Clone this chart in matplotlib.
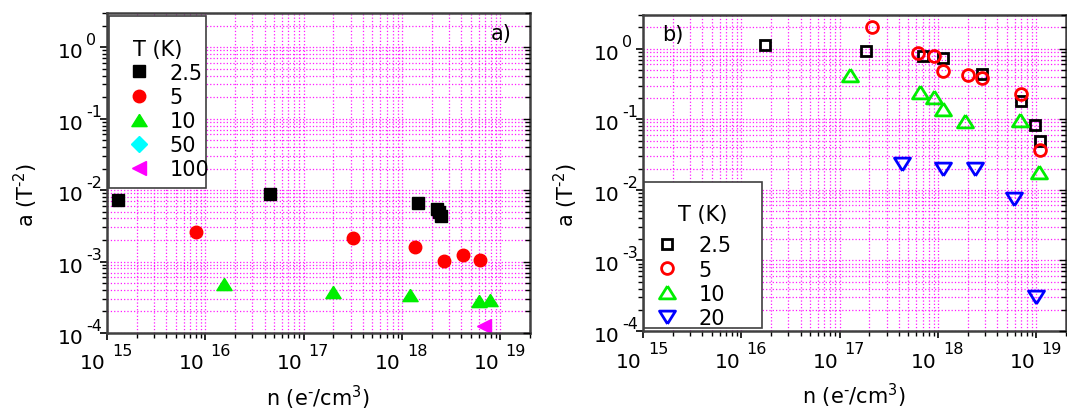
import matplotlib
matplotlib.use('Agg')
import matplotlib.pyplot as plt
from matplotlib.ticker import LogLocator, NullFormatter

plt.rcParams['font.family'] = 'DejaVu Sans'
plt.rcParams['font.size'] = 14

# panel a) - filled markers
a_n_25 = [1.28e15, 4.5e16, 1.44e18, 2.26e18, 2.4e18, 2.5e18]
a_a_25 = [7.2e-3, 8.8e-3, 6.5e-3, 5.5e-3, 5.0e-3, 4.3e-3]
a_n_5 = [8.0e15, 3.2e17, 1.34e18, 2.7e18, 4.2e18, 6.2e18]
a_a_5 = [2.6e-3, 2.1e-3, 1.6e-3, 1.02e-3, 1.25e-3, 1.05e-3]
a_n_10 = [1.55e16, 2.0e17, 1.2e18, 6.0e18, 7.9e18]
a_a_10 = [4.8e-4, 3.7e-4, 3.4e-4, 2.8e-4, 2.9e-4]
a_n_50 = []
a_a_50 = []
a_n_100 = [6.8e18]
a_a_100 = [1.27e-4]

# panel b) - open markers
b_n_25 = [1.76e16, 1.85e17, 7.0e17, 1.13e18, 2.8e18, 6.9e18, 9.6e18, 1.1e19]
b_a_25 = [1.11, 0.92, 0.80, 0.74, 0.44, 0.18, 0.082, 0.049]
b_n_5 = [2.15e17, 6.3e17, 9.1e17, 1.12e18, 2.0e18, 2.8e18, 6.9e18, 1.1e19]
b_a_5 = [2.0, 0.87, 0.78, 0.49, 0.43, 0.38, 0.23, 0.037]
b_n_10 = [1.26e17, 6.6e17, 9.1e17, 1.12e18, 1.9e18, 6.8e18, 1.07e19]
b_a_10 = [0.43, 0.24, 0.21, 0.14, 0.094, 0.099, 0.018]
b_n_20 = [4.3e17, 1.12e18, 2.4e18, 5.9e18, 1.0e19]
b_a_20 = [0.023, 0.0195, 0.0195, 0.0074, 3.0e-4]

x_exps = [15, 16, 17, 18, 19]
y_exps = [-4, -3, -2, -1, 0]

# wide triangles
tri_up = [(0, 0.8), (-1, -0.8), (1, -0.8), (0, 0.8)]
tri_dn = [(0, -0.8), (-1, 0.8), (1, 0.8), (0, -0.8)]

W, H = 1067, 410
fig = plt.figure(figsize=(W / 100, H / 100), dpi=100)
ax1 = fig.add_axes([107 / W, 1 - 334 / H, 423 / W, 320 / H])
ax2 = fig.add_axes([643 / W, 1 - 332 / H, 423 / W, 316 / H])


def decade_labels(ax):
    # "10" plus a raised exponent, drawn as two pieces of text
    for e in x_exps:
        ax.annotate('10', xy=(10.0 ** e, 0), xycoords=('data', 'axes fraction'),
                    xytext=(-1, -35.5), textcoords='offset pixels',
                    ha='right', va='baseline', fontsize=14.5, annotation_clip=False)
        ax.annotate('%d' % e, xy=(10.0 ** e, 0), xycoords=('data', 'axes fraction'),
                    xytext=(5, -22), textcoords='offset pixels',
                    ha='left', va='baseline', fontsize=11.5, annotation_clip=False)
    for e in y_exps:
        ax.annotate('10', xy=(0, 10.0 ** e), xycoords=('axes fraction', 'data'),
                    xytext=(-23, -10), textcoords='offset pixels',
                    ha='right', va='baseline', fontsize=14.5, annotation_clip=False)
        ax.annotate('%d' % e, xy=(0, 10.0 ** e), xycoords=('axes fraction', 'data'),
                    xytext=(-21, 3), textcoords='offset pixels',
                    ha='left', va='baseline', fontsize=11.5, annotation_clip=False)


def log_locators(ax):
    for axis in (ax.xaxis, ax.yaxis):
        axis.set_major_locator(LogLocator(base=10, numticks=10))
        axis.set_minor_locator(LogLocator(base=10, subs=range(2, 10), numticks=20))
        axis.set_minor_formatter(NullFormatter())


def style(ax):
    ax.set_xscale('log')
    ax.set_yscale('log')
    ax.set_xlim(1e15, 2e19)
    ax.set_ylim(1e-4, 3)
    log_locators(ax)
    ax.grid(True, which='both', color='#ff1aff', linestyle=':', linewidth=0.9)
    ax.set_axisbelow(True)
    for s in ax.spines.values():
        s.set_color('#404040')
        s.set_linewidth(1.8)
    ax.tick_params(which='major', direction='out', length=5, width=1.2,
                   right=False, top=False, labelbottom=False, labelleft=False)
    ax.tick_params(which='minor', direction='out', length=3.5, width=1,
                   right=False, top=False)
    ax.set_xlabel('n (e$^{\\mathregular{\u2010}}$/cm$^{\\mathregular{3}}$)', fontsize=15)
    ax.set_ylabel('a (T$^{\\mathregular{\u20102}}$)', fontsize=15)
    decade_labels(ax)

    # ticks on the right side point inwards
    rt = ax.twinx()
    rt.set_yscale('log')
    rt.set_ylim(ax.get_ylim())
    log_locators(rt)
    rt.tick_params(which='both', direction='in', width=1, labelright=False)
    rt.tick_params(which='major', length=5)
    rt.tick_params(which='minor', length=3.5)
    for s in rt.spines.values():
        s.set_visible(False)


style(ax1)
style(ax2)
ax1.xaxis.set_label_coords(0.5, -0.156)
ax1.yaxis.set_label_coords(-0.158, 0.434)
ax2.xaxis.set_label_coords(0.5, -0.157)
ax2.yaxis.set_label_coords(-0.149, 0.434)

ax1.plot(a_n_25, a_a_25, 's', color='black', ms=8.5, label='2.5')
ax1.plot(a_n_5, a_a_5, 'o', color='red', ms=9, label='5')
ax1.plot(a_n_10, a_a_10, marker=tri_up, ls='none', color='#00ee00', ms=11, label='10')
ax1.plot(a_n_50, a_a_50, 'D', color='cyan', ms=8, label='50')
ax1.plot(a_n_100, a_a_100, '<', color='magenta', ms=10, label='100')
ax1.text(0.957, 0.936, 'a)', transform=ax1.transAxes, ha='right', va='center', fontsize=15)

# fixed-width legend boxes (mode='expand' takes the width of the anchor box)
leg1 = ax1.legend(title='\nT (K)', loc='upper left', mode='expand',
                  bbox_to_anchor=(0.0047, 0.0, 0.2293, 0.9897),
                  fontsize=15, title_fontsize=15,
                  frameon=True, fancybox=False, edgecolor='#404040', framealpha=1,
                  borderaxespad=0, handletextpad=0.43, labelspacing=0.2,
                  handlelength=2.07, borderpad=0.4)
leg1.get_title().set_linespacing(0.62)
leg1.get_frame().set_linewidth(1.2)
leg1.set_zorder(5)

mew = 2
ax2.plot(b_n_25, b_a_25, 's', mfc='none', mec='black', mew=mew, ms=7.5, label='2.5')
ax2.plot(b_n_5, b_a_5, 'o', mfc='none', mec='red', mew=mew, ms=8.5, label='5')
ax2.plot(b_n_10, b_a_10, marker=tri_up, ls='none', mfc='none', mec='#00ee00', mew=mew,
         ms=11.5, label='10')
ax2.plot(b_n_20, b_a_20, marker=tri_dn, ls='none', mfc='none', mec='blue', mew=mew,
         ms=11.5, label='20')
ax2.text(0.071, 0.941, 'b)', transform=ax2.transAxes, ha='center', va='center', fontsize=15)
leg2 = ax2.legend(title='\nT (K)', loc='lower left', mode='expand',
                  bbox_to_anchor=(0.0024, 0.0085, 0.279, 0.5),
                  fontsize=15, title_fontsize=15,
                  frameon=True, fancybox=False, edgecolor='#404040', framealpha=1,
                  borderaxespad=0, handletextpad=0.39, labelspacing=0.2,
                  handlelength=2.2, borderpad=0.02)
leg2.get_title().set_linespacing(1.1)
leg2.get_frame().set_linewidth(1.2)
leg2.set_zorder(5)
# a bit more room between the title and the entries
leg2._legend_box.sep = 8

fig.savefig('out.png', dpi=100)
